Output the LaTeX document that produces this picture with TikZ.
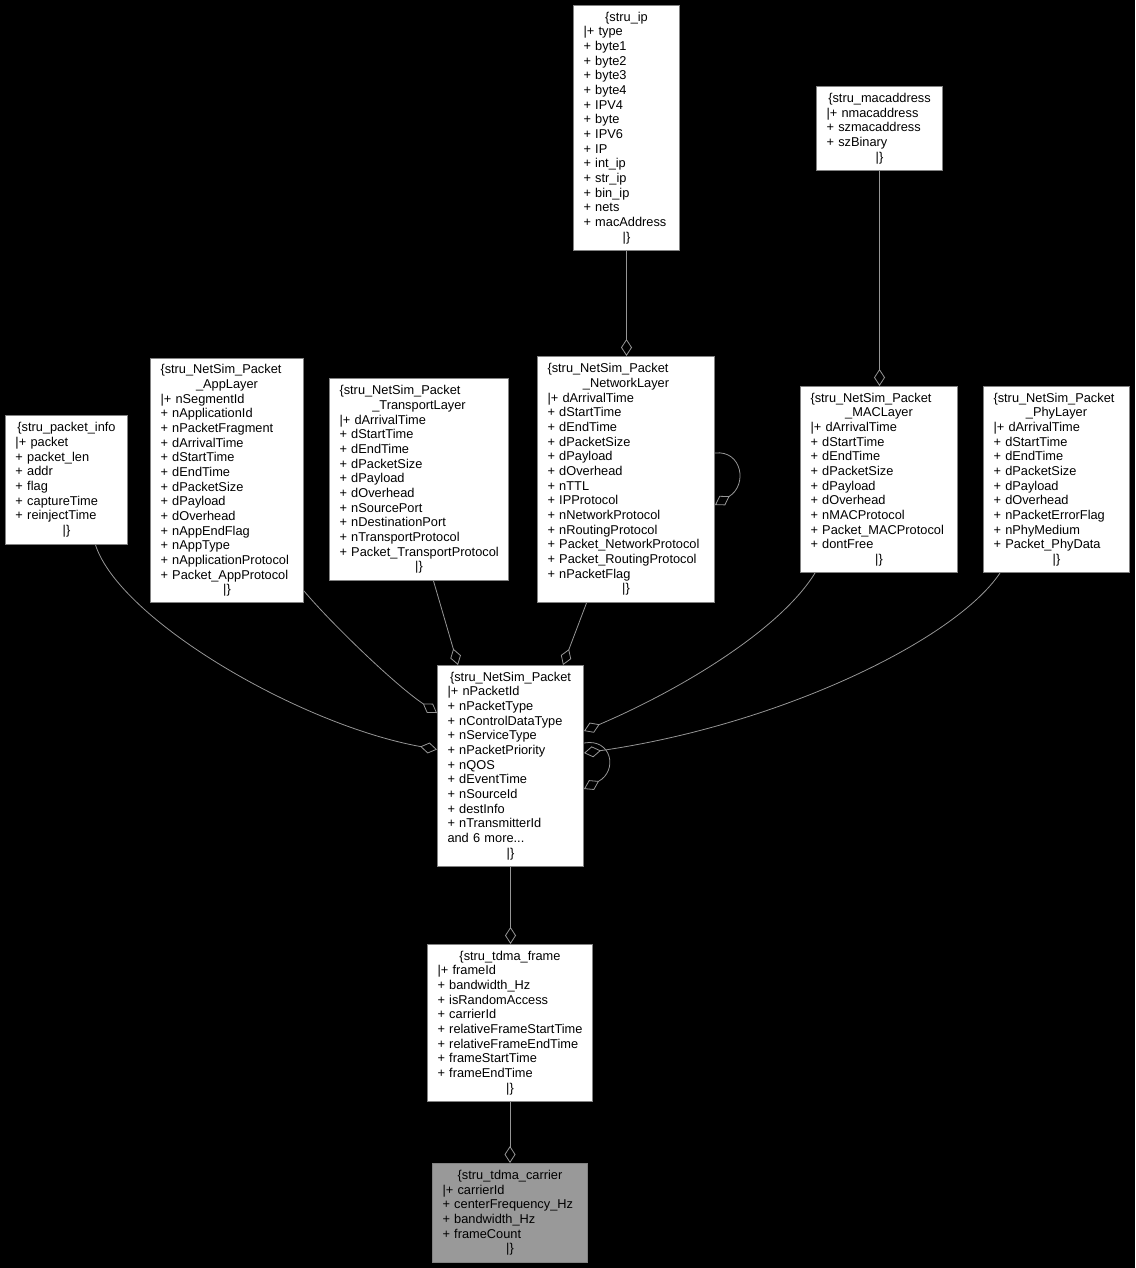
\documentclass[tikz,border=0pt]{standalone}
\usepackage{fontspec}
\setmainfont{Liberation Sans}
\usetikzlibrary{arrows.meta}
\definecolor{edgec}{RGB}{150,150,150}
\definecolor{boxc}{RGB}{130,130,130}
\definecolor{carrierfill}{RGB}{153,153,153}
\newcommand{\ctr}[1]{\makebox[\linewidth]{#1}}
\newcommand{\recfont}{\fontsize{12.8}{14.67}\selectfont\hyphenpenalty 10000\relax\exhyphenpenalty 10000\relax}
\begin{document}
\begin{tikzpicture}[x=1pt,y=-1pt,
  rec/.style={draw=boxc, fill=white, line width=1pt, anchor=north west,
    inner xsep=10pt, inner ysep=0pt, align=left, text=black, font=\recfont},
  link/.style={draw=edgec, line width=0.8pt,
    -{Diamond[open, length=17pt, width=11pt, line width=0.8pt]}}]
\fill[black] (0,0) rectangle (1135,1268);
\useasboundingbox (0,0) rectangle (1135,1268);

\node[rec, text width=86pt, minimum height=245pt] (ip) at (573,5)
 {\ctr{\{stru\_ip}\\|+~type\\+~byte1\\+~byte2\\+~byte3\\+~byte4\\+~IPV4\\+~byte\\+~IPV6\\+~IP\\+~int\_ip\\+~str\_ip\\+~bin\_ip\\+~nets\\+~macAddress\\\ctr{|\}}};

\node[rec, text width=106pt, minimum height=84pt] (mac) at (816,86)
 {\ctr{\{stru\_macaddress}\\|+~nmacaddress\\+~szmacaddress\\+~szBinary\\\ctr{|\}}};

\node[rec, text width=102pt, minimum height=129pt] (pinfo) at (5,415)
 {\ctr{\{stru\_packet\_info}\\|+~packet\\+~packet\_len\\+~addr\\+~flag\\+~captureTime\\+~reinjectTime\\\ctr{|\}}};

\node[rec, text width=133pt, minimum height=244pt] (app) at (150,358)
 {\{stru\_NetSim\_Packet\\\ctr{\_AppLayer}\\|+~nSegmentId\\+~nApplicationId\\+~nPacketFragment\\+~dArrivalTime\\+~dStartTime\\+~dEndTime\\+~dPacketSize\\+~dPayload\\+~dOverhead\\+~nAppEndFlag\\+~nAppType\\+~nApplicationProtocol\\+~Packet\_AppProtocol\\\ctr{|\}}};

\node[rec, text width=159pt, minimum height=202pt] (trans) at (329,378)
 {\{stru\_NetSim\_Packet\\\ctr{\_TransportLayer}\\|+~dArrivalTime\\+~dStartTime\\+~dEndTime\\+~dPacketSize\\+~dPayload\\+~dOverhead\\+~nSourcePort\\+~nDestinationPort\\+~nTransportProtocol\\+~Packet\_TransportProtocol\\\ctr{|\}}};

\node[rec, text width=157pt, minimum height=246pt] (net) at (537,356)
 {\{stru\_NetSim\_Packet\\\ctr{\_NetworkLayer}\\|+~dArrivalTime\\+~dStartTime\\+~dEndTime\\+~dPacketSize\\+~dPayload\\+~dOverhead\\+~nTTL\\+~IPProtocol\\+~nNetworkProtocol\\+~nRoutingProtocol\\+~Packet\_NetworkProtocol\\+~Packet\_RoutingProtocol\\+~nPacketFlag\\\ctr{|\}}};

\node[rec, text width=137pt, minimum height=186pt] (maclayer) at (800,386)
 {\{stru\_NetSim\_Packet\\\ctr{\_MACLayer}\\|+~dArrivalTime\\+~dStartTime\\+~dEndTime\\+~dPacketSize\\+~dPayload\\+~dOverhead\\+~nMACProtocol\\+~Packet\_MACProtocol\\+~dontFree\\\ctr{|\}}};

\node[rec, text width=126pt, minimum height=186pt] (phy) at (983,386)
 {\{stru\_NetSim\_Packet\\\ctr{\_PhyLayer}\\|+~dArrivalTime\\+~dStartTime\\+~dEndTime\\+~dPacketSize\\+~dPayload\\+~dOverhead\\+~nPacketErrorFlag\\+~nPhyMedium\\+~Packet\_PhyData\\\ctr{|\}}};

\node[rec, text width=126pt, minimum height=201pt] (pkt) at (437,665)
 {\ctr{\{stru\_NetSim\_Packet}\\|+~nPacketId\\+~nPacketType\\+~nControlDataType\\+~nServiceType\\+~nPacketPriority\\+~nQOS\\+~dEventTime\\+~nSourceId\\+~destInfo\\+~nTransmitterId\\and~6~more...\\\ctr{|\}}};

\node[rec, text width=145pt, minimum height=157pt] (frame) at (427,944)
 {\ctr{\{stru\_tdma\_frame}\\|+~frameId\\+~bandwidth\_Hz\\+~isRandomAccess\\+~carrierId\\+~relativeFrameStartTime\\+~relativeFrameEndTime\\+~frameStartTime\\+~frameEndTime\\\ctr{|\}}};

\node[rec, fill=carrierfill, text width=135pt, minimum height=99pt] (carrier) at (432,1163)
 {\ctr{\{stru\_tdma\_carrier}\\|+~carrierId\\+~centerFrequency\_Hz\\+~bandwidth\_Hz\\+~frameCount\\\ctr{|\}}};

% connectors
\draw[link] (ip.south) -- (ip.south |- net.north);
\draw[link] (mac.south) -- (mac.south |- maclayer.north);
\draw[link] ([xshift=29pt]pinfo.south) .. controls (120,620) and (300,725) .. ([yshift=16.5pt]pkt.west);
\draw[link] ([yshift=12pt]app.south east) .. controls (330,622) and (395,685) .. ([yshift=-48pt]pkt.north west);
\draw[link] ([xshift=14.5pt]trans.south) -- ([xshift=21pt]pkt.north west);
\draw[link] ([xshift=-39.5pt]net.south) -- ([xshift=126pt]pkt.north west);
\draw[link] ([xshift=15pt]maclayer.south west) .. controls (780,630) and (680,690) .. ([yshift=-66pt]pkt.north east);
\draw[link] ([xshift=17pt]phy.south west) .. controls (955,640) and (780,725) .. ([yshift=-88pt]pkt.north east);
\draw[link] ([yshift=-78pt]pkt.north east) .. controls (612,738) and (618,771) .. ([yshift=-124pt]pkt.north east);
\draw[link] ([yshift=-97pt]net.north east) .. controls (742,450) and (748,485) .. ([yshift=-149pt]net.north east);
\draw[link] (pkt.south) -- (pkt.south |- frame.north);
\draw[link] (frame.south) -- (frame.south |- carrier.north);
\end{tikzpicture}
\end{document}
